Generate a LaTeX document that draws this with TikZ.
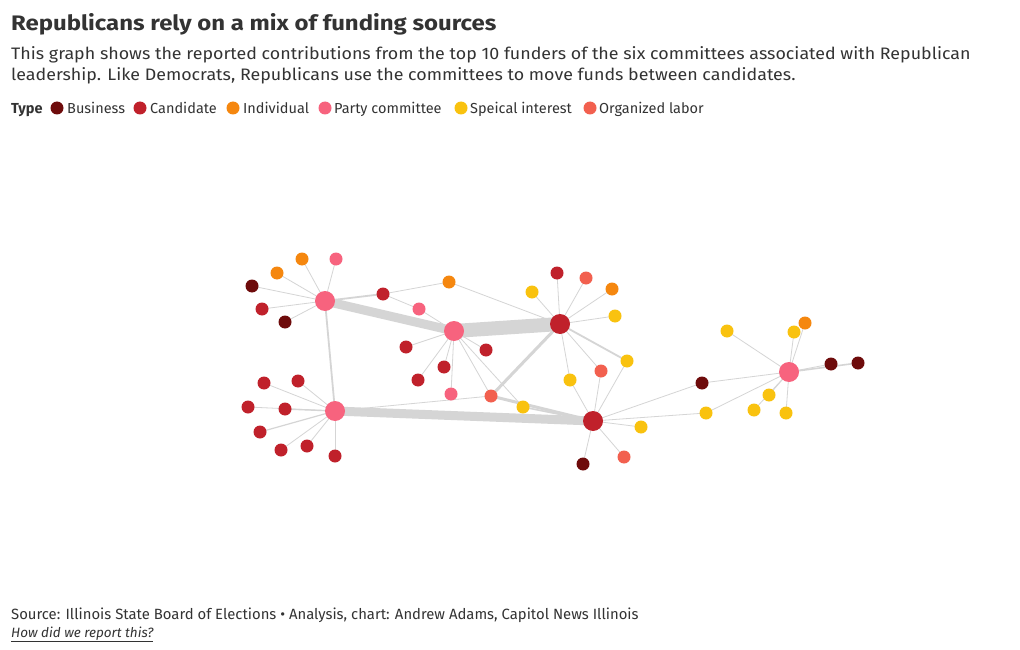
\documentclass[tikz,border=0pt]{standalone}
\usepackage{fontspec}
\setmainfont{Fira Sans}
\newfontfamily\titlefont[FakeStretch=1.14]{Fira Sans}
\newfontfamily\subfont[FakeStretch=1.075]{Fira Sans}
\definecolor{cBiz}{HTML}{6E0B0B}
\definecolor{cCand}{HTML}{C0212B}
\definecolor{cInd}{HTML}{F5870F}
\definecolor{cParty}{HTML}{F7637E}
\definecolor{cSpec}{HTML}{F9C20F}
\definecolor{cLab}{HTML}{F2604F}
\definecolor{txt}{HTML}{333333}
\definecolor{edgec}{HTML}{D5D5D5}
\pgfdeclarelayer{bg}
\pgfsetlayers{bg,main}
\tikzset{
  dot/.style={circle, inner sep=0pt, minimum size=13pt},
  big/.style={minimum size=20pt},
  biz/.style={dot, fill=cBiz},
  cand/.style={dot, fill=cCand},
  ind/.style={dot, fill=cInd},
  party/.style={dot, fill=cParty},
  spec/.style={dot, fill=cSpec},
  lab/.style={dot, fill=cLab},
  link/.style={draw=edgec, line width=0.8pt},
  wlink/.style={draw=edgec, line width=#1},
  lgtext/.style={anchor=base west, inner sep=0pt, text=txt, font=\fontsize{14.5}{17}\selectfont},
}
\begin{document}
\begin{tikzpicture}[x=1pt,y=-1pt]
\useasboundingbox (0,0) rectangle (1020,650);

% titles
\node[anchor=base west, inner sep=0pt, text=txt, font=\titlefont\bfseries\fontsize{21}{25}\selectfont] (title) at (11,31) {Republicans rely on a mix of funding sources};
\node[anchor=base west, inner sep=0pt, text=txt, font=\subfont\fontsize{16.6}{20}\selectfont] (sub1) at (11,60) {This graph shows the reported contributions from the top 10 funders of the six committees associated with Republican};
\node[anchor=base west, inner sep=0pt, text=txt, font=\subfont\fontsize{16.6}{20}\selectfont] (sub2) at (11,81) {leadership. Like Democrats, Republicans use the committees to move funds between candidates.};

% legend
\node[lgtext, font=\bfseries\fontsize{14.5}{17}\selectfont] (ltype) at (11,114) {Type};
\node[biz] (lg1) at (57,108) {};   \node[lgtext] (lt1) at (67,114) {Business};
\node[cand] (lg2) at (140,108) {}; \node[lgtext] (lt2) at (150,114) {Candidate};
\node[ind] (lg3) at (233,108) {};  \node[lgtext] (lt3) at (243,114) {Individual};
\node[party] (lg4) at (325,108) {};\node[lgtext] (lt4) at (334,114) {Party committee};
\node[spec] (lg5) at (461,108) {}; \node[lgtext] (lt5) at (470,114) {Speical interest};
\node[lab] (lg6) at (590,108) {};  \node[lgtext] (lt6) at (599,114) {Organized labor};

% footer
\node[anchor=base west, inner sep=0pt, text=txt, font=\fontsize{14.85}{18}\selectfont] (src) at (11,619) {Source: Illinois State Board of Elections \textbullet\ Analysis, chart: Andrew Adams, Capitol News Illinois};
\node[anchor=base west, inner sep=0pt, text=txt, font=\itshape\fontsize{13.5}{16}\selectfont] (how) at (11,637) {\underline{How did we report this?}};

% hubs
\node[party, big] (H1) at (325,301) {};
\node[party, big] (H2) at (454,331) {};
\node[party, big] (H3) at (335,411) {};
\node[party, big] (H4) at (789,372) {};
\node[cand, big] (C1) at (560,324) {};
\node[cand, big] (C2) at (593,421) {};

% around H1
\node[ind] (a1) at (277,273) {};
\node[ind] (a2) at (302,259) {};
\node[party] (a3) at (336,259) {};
\node[biz] (a4) at (252,286) {};
\node[cand] (a5) at (262,309) {};
\node[biz] (a6) at (285,322) {};
% between H1, H2, C1
\node[cand] (b1) at (383,294) {};
\node[party] (b2) at (419,309) {};
\node[ind] (b3) at (449,282) {};
% around H2
\node[cand] (d1) at (406,347) {};
\node[cand] (d2) at (418,380) {};
\node[cand] (d3) at (444,367) {};
\node[cand] (d4) at (486,350) {};
\node[party] (d5) at (451,394) {};
\node[lab] (d6) at (491,396) {};
\node[spec] (d7) at (523,407) {};
% around C1
\node[spec] (e1) at (532,292) {};
\node[cand] (e2) at (557,273) {};
\node[lab] (e3) at (586,278) {};
\node[ind] (e4) at (612,289) {};
\node[spec] (e5) at (615,316) {};
\node[spec] (e6) at (627,361) {};
\node[lab] (e7) at (601,371) {};
\node[spec] (e8) at (570,380) {};
% around C2
\node[spec] (f1) at (641,427) {};
\node[biz] (f2) at (583,464) {};
\node[lab] (f3) at (624,457) {};
\node[biz] (f4) at (702,383) {};
\node[spec] (f5) at (706,413) {};
% around H4
\node[spec] (g1) at (727,331) {};
\node[spec] (g2) at (794,332) {};
\node[ind] (g3) at (805,323) {};
\node[biz] (g4) at (831,364) {};
\node[biz] (g5) at (858,363) {};
\node[spec] (g6) at (769,395) {};
\node[spec] (g7) at (754,410) {};
\node[spec] (g8) at (786,413) {};
% around H3
\node[cand] (h1) at (264,383) {};
\node[cand] (h2) at (298,381) {};
\node[cand] (h3) at (248,407) {};
\node[cand] (h4) at (285,409) {};
\node[cand] (h5) at (260,432) {};
\node[cand] (h6) at (281,450) {};
\node[cand] (h7) at (307,446) {};
\node[cand] (h8) at (335,456) {};

\begin{pgfonlayer}{bg}
\fill[white] (0,0) rectangle (1020,650);
% heavy links
\draw[wlink=14pt] (H2.center) -- (C1.center);
\draw[wlink=9pt] (H1.center) -- (H2.center);
\draw[wlink=9pt] (H3.center) -- (C2.center);
\draw[wlink=3pt] (C1.center) -- (d6.center);
\draw[wlink=3pt] (d6.center) -- (C2.center);
\draw[wlink=1.6pt] (d7.center) -- (C2.center);
\draw[wlink=1.8pt] (H1.center) -- (H3.center);
\draw[wlink=1.8pt] (H1.center) -- (b1.center);
\draw[wlink=1.8pt] (C1.center) -- (e6.center);
\draw[wlink=1.6pt] (H4.center) -- (g5.center);
\draw[wlink=1.4pt] (H3.center) -- (h4.center);
\draw[wlink=1.2pt] (H3.center) -- (h5.center);
% thin links
\foreach \n in {a1,a2,a3,a4,a5,a6} \draw[link] (H1.center) -- (\n.center);
\draw[link] (b1.center) -- (b3.center);
\draw[link] (b3.center) -- (C1.center);
\draw[link] (b1.center) -- (b2.center);
\draw[link] (b2.center) -- (H2.center);
\foreach \n in {d1,d2,d3,d4,d5,d6,d7} \draw[link] (H2.center) -- (\n.center);
\foreach \n in {e1,e2,e3,e4,e5,e7,e8} \draw[link] (C1.center) -- (\n.center);
\foreach \n in {e6,e7,e8,f1,f2,f3,f4,f5} \draw[link] (C2.center) -- (\n.center);
\foreach \n in {f4,f5,g1,g2,g3,g4,g6,g7,g8} \draw[link] (H4.center) -- (\n.center);
\foreach \n in {h1,h2,h3,h6,h7,h8} \draw[link] (H3.center) -- (\n.center);
\draw[link] (H3.center) -- (d6.center);
\end{pgfonlayer}
\end{tikzpicture}
\end{document}
